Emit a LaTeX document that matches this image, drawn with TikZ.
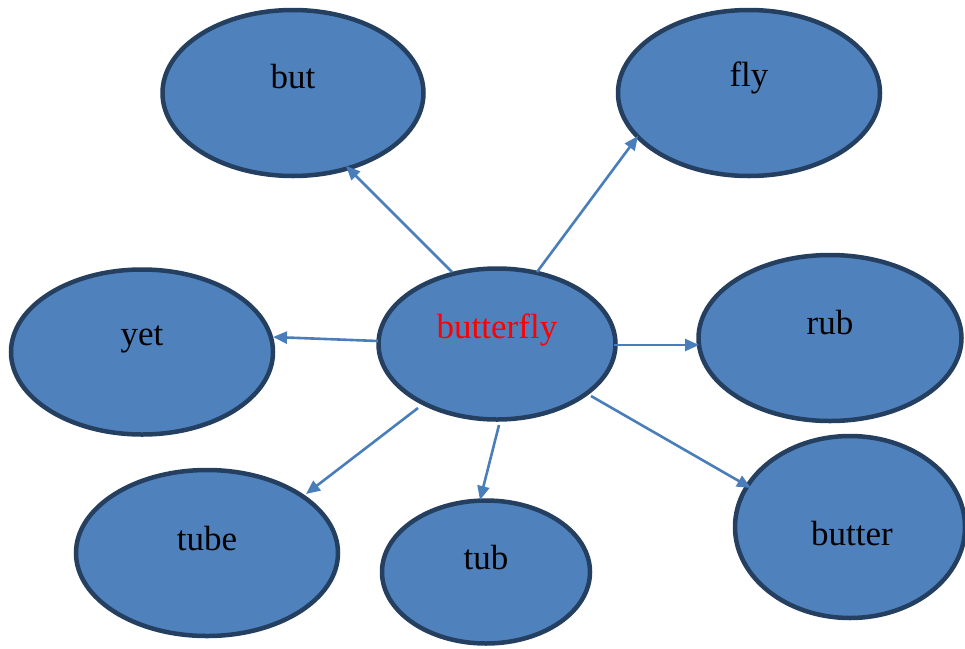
\documentclass[tikz,border=0pt]{standalone}
\usepackage{fontspec}
\setmainfont{Liberation Serif}
\usetikzlibrary{shapes.geometric,arrows.meta}
\definecolor{fillblue}{HTML}{4F81BD}
\definecolor{edgeblue}{HTML}{243F60}
\definecolor{arrowblue}{HTML}{4A7EBB}
\tikzset{
  bubble/.style={ellipse, draw=edgeblue, fill=fillblue, line width=4.5pt, inner sep=0pt},
  word/.style={font=\fontsize{35}{38}\selectfont, inner sep=0pt, anchor=center},
  link/.style={draw=arrowblue, line width=2.6pt, -{Triangle[length=14pt,width=12pt]}}
}
\begin{document}
\begin{tikzpicture}[x=1pt,y=-1pt]
\useasboundingbox (0,0) rectangle (965,648);
\node[bubble, minimum width=261pt, minimum height=166pt] (but) at (293,93) {};
\node[bubble, minimum width=262pt, minimum height=166pt] (fly) at (749,93) {};
\node[bubble, minimum width=262pt, minimum height=165pt] (yet) at (142,352) {};
\node[bubble, minimum width=237pt, minimum height=151pt] (bf) at (497,344) {};
\node[bubble, minimum width=263pt, minimum height=166pt] (rub) at (830,338) {};
\node[bubble, minimum width=262pt, minimum height=166pt] (tube) at (207,553) {};
\node[bubble, minimum width=208pt, minimum height=143pt] (tub) at (486,572) {};
\node[bubble, minimum width=230pt, minimum height=182pt] (butter) at (850,527) {};
\node[word] (but-t) at (293,77) {but};
\node[word] (fly-t) at (749,78) {fly};
\node[word] (yet-t) at (142,339) {yet};
\node[word, text=red] (bf-t) at (497,330) {butterfly};
\node[word] (rub-t) at (830,323) {rub};
\node[word] (tube-t) at (207,539) {tube};
\node[word] (tub-t) at (486,558) {tub};
\node[word] (butter-t) at (852,534) {butter};
\coordinate (s1) at (452,272); \coordinate (e1) at (346,166);
\coordinate (s2) at (537,272); \coordinate (e2) at (638,136);
\coordinate (s3) at (378,341); \coordinate (e3) at (273,337);
\coordinate (s4) at (614,345); \coordinate (e4) at (699,345);
\coordinate (s5) at (418,408); \coordinate (e5) at (306,494);
\coordinate (s6) at (499,425); \coordinate (e6) at (480,500);
\coordinate (s7) at (591,396); \coordinate (e7) at (751,488);
\draw[link] (s1) -- (e1);
\draw[link] (s2) -- (e2);
\draw[link] (s3) -- (e3);
\draw[link] (s4) -- (e4);
\draw[link] (s5) -- (e5);
\draw[link] (s6) -- (e6);
\draw[link] (s7) -- (e7);
\end{tikzpicture}
\end{document}
